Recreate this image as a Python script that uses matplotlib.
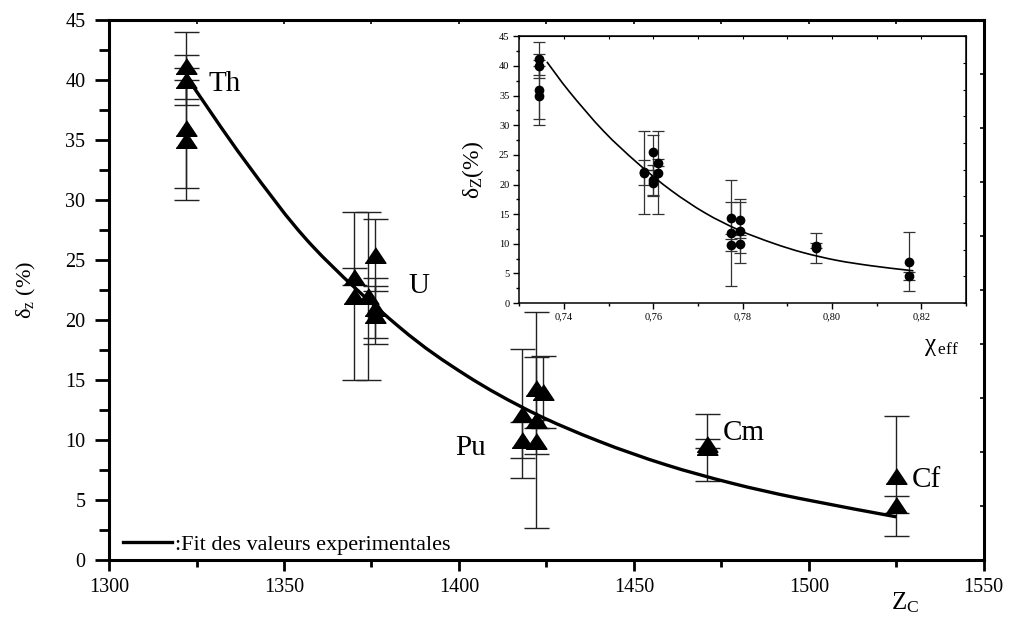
import numpy as np
import matplotlib
matplotlib.use("Agg")
import matplotlib.pyplot as plt
from matplotlib.path import Path
from matplotlib.patches import PathPatch

plt.rcParams['font.family'] = ['Liberation Serif', 'DejaVu Serif']
plt.rcParams['mathtext.fontset'] = 'stix'

# ---------------- data (main plot) ----------------
zc = [1322, 1322, 1322, 1322,
      1370, 1370, 1374, 1376, 1376, 1376,
      1418, 1418, 1422, 1422, 1422, 1424,
      1471, 1471,
      1525, 1525]
delta = [41.2, 40.0, 36.0, 35.0,
         23.6, 22.0, 22.0, 25.4, 21.0, 20.4,
         12.2, 10.0, 14.3, 11.7, 9.9, 14.0,
         9.7, 9.4,
         7.0, 4.6]
delta_err = [2.8, 2.1, 5.0, 5.0,
             0.7, 7.0, 7.0, 3.0, 2.5, 2.4,
             5.4, 1.5, 2.6, 9.0, 1.1, 3.0,
             0.4, 2.8,
             5.0, 0.7]

fit_zc = [1323, 1339, 1358, 1383, 1402, 1421, 1440, 1459, 1478, 1497, 1525]
fit_delta = [39.9, 33.2, 26.2, 19.4, 15.4, 12.3, 9.9, 7.95, 6.4, 5.15, 3.6]

element_labels = ['Th', 'U', 'Pu', 'Cm', 'Cf']
label_x = [1328.5, 1385.5, 1399.0, 1475.5, 1529.5]
label_y = [39.7, 22.8, 9.3, 10.6, 6.7]

# ---------------- data (inset) ----------------
chi = [0.7345, 0.7345, 0.7345, 0.7345,
       0.758, 0.758, 0.760, 0.760, 0.760, 0.761, 0.761,
       0.7775, 0.7775, 0.7775, 0.7795, 0.7795, 0.7795,
       0.7965, 0.7965,
       0.8172, 0.8172]
delta_in = [41.2, 40.0, 36.0, 35.0,
            22.0, 22.1, 25.4, 20.8, 20.2, 23.7, 22.0,
            14.3, 11.8, 9.8, 14.0, 12.2, 10.0,
            9.7, 9.3,
            7.0, 4.6]
delta_in_err = [2.8, 2.1, 5.0, 5.0,
                7.0, 2.1, 3.0, 2.5, 2.2, 0.6, 7.0,
                2.7, 9.0, 1.0, 3.0, 5.4, 1.5,
                0.4, 2.6,
                5.0, 0.7]

fit_chi = [0.7362, 0.7413, 0.7489, 0.7565, 0.7640, 0.7716, 0.7792, 0.7868,
           0.7936, 0.8011, 0.8087, 0.8163, 0.8182]
fit_delta_in = [40.7, 35.6, 29.0, 23.6, 19.0, 15.2, 12.3, 10.1,
                8.5, 7.2, 6.3, 5.6, 5.45]


def smooth_path(xs, ys):
    """Smooth (Catmull-Rom as cubic Bezier) path through the read points."""
    p = np.column_stack([xs, ys]).astype(float)
    verts = [p[0]]
    codes = [Path.MOVETO]
    n = len(p)
    for i in range(n - 1):
        p0 = p[i - 1] if i > 0 else p[i]
        p1, p2 = p[i], p[i + 1]
        p3 = p[i + 2] if i + 2 < n else p[i + 1]
        verts += [p1 + (p2 - p0) / 6.0, p2 - (p3 - p1) / 6.0, p2]
        codes += [Path.CURVE4] * 3
    return Path(verts, codes)


# ---------------- figure ----------------
fig = plt.figure(figsize=(10.1, 6.21), dpi=100)
ax = fig.add_axes([0.108, 0.0982, 0.866, 0.8696])

tri = [(-1.0, -0.75), (1.0, -0.75), (0.0, 0.75)]
ax.errorbar(zc, delta, yerr=delta_err, fmt='none', ecolor='#222222',
            elinewidth=1.0, capsize=9, capthick=1.0, zorder=2)
ax.plot(zc, delta, linestyle='none', marker=tri, markersize=15,
        color='black', zorder=3)
ax.add_patch(PathPatch(smooth_path(fit_zc, fit_delta), fill=False,
                       edgecolor='black', lw=2.4, zorder=4,
                       transform=ax.transData))
ax.plot([], [], color='black', lw=2.4, label=':Fit des valeurs experimentales')

for t, x, y in zip(element_labels, label_x, label_y):
    ax.text(x, y, t, fontsize=21, va='center', ha='left')

ax.set_xlim(1300, 1550)
ax.set_ylim(0, 45)
ax.set_xticks(np.arange(1300, 1551, 50))
ax.set_xticks(np.arange(1325, 1550, 50), minor=True)
ax.set_yticks(np.arange(0, 46, 5))
ax.set_yticks(np.arange(2.5, 45, 5), minor=True)
ax.tick_params(axis='both', which='major', direction='out', width=2,
               labelsize=14.5)
ax.tick_params(axis='x', which='major', length=8, pad=5)
ax.tick_params(axis='x', which='minor', length=5, width=2, direction='out')
ax.tick_params(axis='y', which='major', length=10, pad=7)
ax.tick_params(axis='y', which='minor', length=7, width=2, direction='out')
for s in ax.spines.values():
    s.set_linewidth(2.2)

sec_r = ax.secondary_yaxis('right')
sec_r.set_yticks(np.linspace(0, 45, 11))
sec_r.tick_params(direction='in', length=3, width=1.2, labelright=False)
sec_t = ax.secondary_xaxis('top')
sec_t.set_xticks(np.arange(1300, 1551, 25))
sec_t.tick_params(direction='in', length=3, width=1.2, labeltop=False)

ax.set_ylabel(r'$\mathregular{δ_z}$ (%)', fontsize=16, labelpad=20)
fig.text(0.882, 0.030, r'$\mathregular{Z_C}$', fontsize=18, ha='left', va='center')

leg = ax.legend(loc='lower left', bbox_to_anchor=(0.016, 0.010),
                frameon=False, fontsize=16, handlelength=2.2,
                handletextpad=0.15, borderpad=0, borderaxespad=0)

# ---------------- inset ----------------
ins = fig.add_axes([0.514, 0.512, 0.4426, 0.4295])
ins.errorbar(chi, delta_in, yerr=delta_in_err, fmt='none', ecolor='#333333',
             elinewidth=0.9, capsize=4, capthick=0.9, zorder=2)
ins.plot(chi, delta_in, linestyle='none', marker='o', markersize=6,
         color='black', zorder=3)
ins.add_patch(PathPatch(smooth_path(fit_chi, fit_delta_in), fill=False,
                        edgecolor='black', lw=1.2, zorder=4,
                        transform=ins.transData))

ins.set_xlim(0.73, 0.83)
ins.set_ylim(0, 45)
ins.set_xticks([0.74, 0.76, 0.78, 0.80, 0.82])
ins.set_xticklabels(['0,74', '0,76', '0,78', '0,80', '0,82'])
ins.set_xticks([0.73, 0.75, 0.77, 0.79, 0.81, 0.83], minor=True)
ins.set_yticks(np.arange(0, 46, 5))
ins.set_yticks(np.arange(2.5, 45, 5), minor=True)
ins.tick_params(axis='both', which='major', direction='out', length=4,
                width=1, labelsize=7.5, pad=3)
ins.tick_params(axis='both', which='minor', direction='out', length=2.5,
                width=1)
for s in ins.spines.values():
    s.set_linewidth(1.1)
ins_r = ins.secondary_yaxis('right')
ins_r.set_yticks(np.linspace(0, 45, 11))
ins_r.tick_params(direction='in', length=2, width=0.8, labelright=False)
ins_t = ins.secondary_xaxis('top')
ins_t.set_xticks(np.arange(0.73, 0.831, 0.01))
ins_t.tick_params(direction='in', length=2, width=0.8, labeltop=False)

ins.set_ylabel(r'$\mathregular{δ_Z}$(%)', fontsize=17, labelpad=9)
fig.text(0.915, 0.441, r'$\mathregular{χ_{\,eff}}$', fontsize=18,
         ha='left', va='center')

fig.savefig('out.png', dpi=100)
